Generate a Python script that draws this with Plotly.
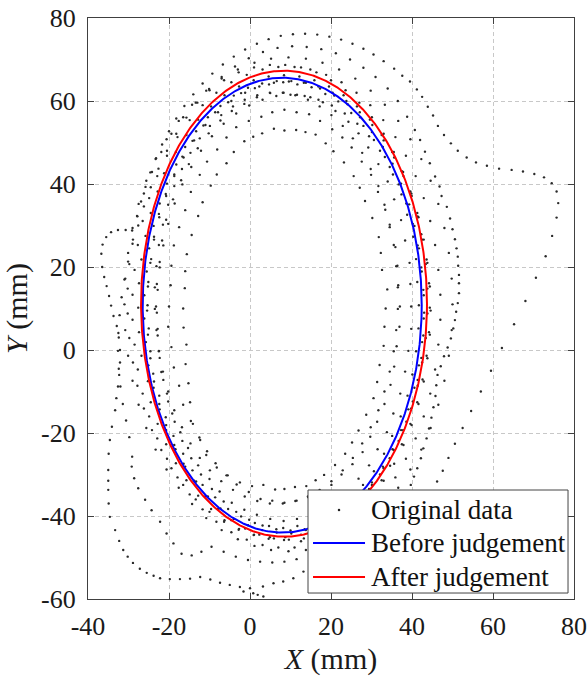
import numpy as np
import plotly.graph_objects as go

# ---- measured trajectory samples (mm), one list per pass ----
loop_outer = [
    (46.2, -31.7), (47.6, -29.1), (49.0, -26.0), (50.6, -22.6), (52.5, -18.8), (54.6, -14.7),
    (57.0, -10.0), (59.5, -5.0), (62.2, 0.5), (65.2, 6.2), (68.0, 11.8), (70.6, 17.4),
    (73.0, 22.6), (74.6, 27.5), (75.7, 31.9), (76.1, 35.4), (75.7, 38.2), (74.5, 40.2),
    (72.6, 41.6), (70.2, 42.4), (67.4, 43.0), (64.6, 43.4), (61.5, 43.7), (58.5, 44.4),
    (55.8, 45.2), (53.5, 46.4), (51.3, 48.0), (49.6, 49.8), (47.9, 51.8), (46.4, 54.0),
    (45.2, 56.5), (43.9, 58.6), (42.5, 61.0), (41.2, 62.8), (39.5, 64.7), (37.6, 66.1),
    (35.6, 67.8), (33.0, 69.6), (30.5, 71.2), (28.0, 72.6), (25.3, 73.8), (22.5, 74.8),
    (19.6, 75.5), (16.6, 76.0), (13.6, 76.2), (10.6, 76.1), (7.6, 75.7), (4.6, 74.9),
    (1.7, 73.8), (-1.2, 72.4), (-4.0, 70.7), (-6.7, 68.8), (-9.3, 66.6), (-11.7, 64.2),
    (-14.0, 61.6), (-16.2, 58.8), (-18.2, 55.8), (-20.0, 52.7), (-21.7, 49.5), (-23.2, 46.2),
    (-24.6, 42.8), (-25.8, 39.3), (-26.9, 35.8), (-27.9, 32.3), (-29.1, 28.8), (-30.7, 28.9),
    (-32.6, 28.9), (-34.3, 28.4), (-35.5, 27.2), (-36.4, 25.4), (-36.7, 23.2), (-36.5, 20.0),
    (-36.0, 17.6), (-35.4, 15.4), (-34.8, 13.0), (-34.3, 10.7), (-33.7, 8.2), (-32.9, 5.8),
    (-32.4, 3.0), (-32.1, 0.0), (-32.1, -3.0), (-32.3, -6.0), (-32.6, -8.8), (-33.0, -11.6),
    (-33.3, -14.5), (-34.1, -18.5), (-34.6, -21.7), (-34.9, -25.0), (-35.0, -28.9), (-35.0, -31.5),
    (-35.0, -33.7), (-34.9, -37.0), (-34.6, -40.2), (-33.3, -43.4), (-32.3, -46.0), (-31.3, -48.2),
    (-30.2, -49.8), (-28.9, -51.3), (-27.2, -52.7), (-25.5, -53.7), (-23.8, -54.4), (-22.2, -55.0),
    (-19.8, -55.2), (-17.3, -55.2), (-14.8, -55.1), (-12.3, -54.7), (-9.8, -55.3), (-7.4, -56.1),
    (-5.0, -56.6), (-2.5, -57.1), (0.0, -57.4), (3.2, -57.0), (5.8, -56.2), (8.2, -55.8),
    (10.7, -55.0), (13.2, -53.4), (0.8, -58.6), (1.9, -59.0), (3.3, -59.4), (-1.6, -58.2),
]

loop_second = [
    (39.7, -32.5), (40.5, -30.5), (41.3, -28.5), (42.2, -26.1), (42.8, -23.7), (43.6, -21.3),
    (44.2, -18.9), (44.8, -16.3), (45.3, -13.8), (45.8, -11.1), (46.0, -8.5), (46.3, -6.0),
    (47.1, -3.9), (47.9, -1.5), (48.8, 0.6), (49.6, 2.8), (50.2, 5.2), (50.6, 7.2),
    (50.9, 9.2), (51.3, 11.3), (51.6, 13.7), (51.6, 16.1), (51.6, 18.1), (51.4, 20.3),
    (51.3, 22.5), (51.0, 24.5), (50.6, 26.7), (50.0, 29.1), (49.4, 31.7), (48.6, 34.5),
    (47.3, 37.1), (46.8, 39.4), (45.7, 41.8), (44.4, 45.0), (43.2, 47.8), (42.0, 50.6),
    (40.7, 53.0), (38.8, 56.2), (36.5, 60.0), (34.0, 63.0), (31.0, 65.8), (28.0, 68.0),
    (24.7, 70.0), (21.2, 71.5), (17.6, 72.5), (14.0, 73.0), (10.4, 73.2), (6.8, 72.8),
    (3.2, 71.8), (-0.3, 70.3), (-3.7, 68.3), (-7.0, 65.8), (-10.1, 62.9), (-13.0, 59.6),
    (-15.7, 56.0), (-18.2, 52.1), (-20.5, 48.0), (-22.6, 43.7), (-24.5, 39.2), (-26.2, 34.6),
    (-27.6, 30.0), (-29.0, 25.6), (-30.1, 21.3), (-31.0, 17.0), (-31.7, 12.7), (-32.2, 8.4),
    (-32.5, 4.1), (-32.6, -0.2), (-32.4, -4.5), (-32.0, -8.8), (-31.4, -13.0), (-30.6, -17.0),
    (-29.8, -21.0), (-29.1, -25.7), (-29.2, -28.1), (-28.6, -30.9), (-27.6, -33.3), (-25.9, -36.1),
    (-24.3, -38.6), (-22.2, -41.4), (-20.6, -44.2), (-18.9, -46.6), (-16.9, -49.1), (-14.4, -49.5),
    (-12.0, -48.6), (-9.5, -47.4), (-6.5, -48.6), (-3.5, -49.8), (-0.5, -50.6), (2.5, -51.0),
    (5.5, -51.2), (8.5, -51.0), (11.5, -50.4), (17.0, -48.5), (21.0, -46.8), (25.0, -44.6),
    (29.0, -42.0), (32.5, -39.0), (35.5, -36.5), (38.0, -34.3),
]

pass_1 = [
    (33.5, 10.0), (33.9, 14.6), (32.6, 19.3), (32.3, 23.4), (31.8, 27.2), (30.2, 31.8),
    (28.4, 35.9), (27.1, 39.1), (25.6, 41.9), (23.2, 45.2), (20.6, 47.9), (18.7, 49.8),
    (16.2, 51.9), (13.7, 52.5), (11.4, 53.0), (8.5, 52.9), (5.9, 53.3), (3.0, 52.2),
    (0.8, 51.4), (-1.4, 50.3), (-4.0, 47.7), (-5.8, 45.0), (-8.2, 42.3), (-9.7, 39.6),
    (-11.7, 35.6), (-12.8, 32.3), (-14.4, 27.7), (-15.6, 23.1), (-16.0, 19.0), (-16.1, 14.9),
    (-16.5, 10.0), (-16.4, 5.4), (-15.7, 1.3), (-15.9, -3.4), (-15.2, -8.0), (-14.8, -12.6),
    (-14.1, -17.8), (-12.3, -21.7), (-10.8, -25.3), (-8.2, -28.3), (-5.5, -30.2), (-2.5, -31.9),
    (0.5, -32.8), (3.3, -32.5), (6.2, -33.6), (8.5, -33.5), (11.1, -33.0), (13.9, -32.8),
    (16.2, -31.4), (18.3, -30.1), (21.0, -27.7), (23.5, -25.0), (25.2, -22.3), (26.8, -19.4),
    (28.7, -15.6), (30.5, -11.6), (31.4, -7.7), (32.0, -3.6), (33.0, 1.0), (33.2, 5.6),
]

pass_2 = [
    (37.0, 10.5), (36.6, 15.6), (36.4, 20.3), (35.9, 24.8), (34.5, 29.6), (33.4, 33.8),
    (31.6, 38.1), (29.9, 42.2), (27.6, 45.4), (25.1, 48.8), (22.8, 51.2), (20.3, 53.2),
    (17.3, 55.2), (14.6, 56.8), (11.5, 57.3), (8.5, 57.9), (5.5, 57.3), (2.8, 56.2),
    (-0.3, 55.2), (-3.4, 53.7), (-5.8, 51.2), (-8.1, 48.3), (-10.6, 45.4), (-12.4, 42.2),
    (-14.6, 38.1), (-16.0, 33.7), (-17.5, 29.6), (-18.8, 25.2), (-19.4, 20.3), (-19.6, 15.6),
    (-20.0, 10.5), (-20.2, 5.6), (-19.4, 0.7), (-18.8, -4.2), (-17.5, -8.6), (-16.5, -13.2),
    (-14.6, -17.1), (-12.5, -21.1), (-10.6, -24.4), (-8.5, -27.3), (-5.8, -30.2), (-3.3, -32.4),
    (-0.3, -34.2), (2.6, -35.9), (5.5, -36.3), (8.5, -36.8), (11.5, -36.3), (14.4, -35.5),
    (17.5, -34.5), (20.1, -32.5), (22.6, -30.0), (25.3, -27.5), (27.8, -24.6), (29.7, -20.9),
    (31.4, -17.3), (33.2, -13.0), (34.7, -8.4), (35.6, -4.0), (36.2, 0.9), (36.9, 5.6),
]

pass_3 = [
    (39.8, 10.5), (39.6, 15.9), (39.4, 21.0), (38.3, 26.4), (37.3, 31.3), (35.6, 36.3),
    (34.0, 40.6), (31.7, 44.8), (29.2, 48.8), (26.8, 52.2), (24.3, 55.0), (21.1, 57.6),
    (18.0, 59.7), (14.9, 60.9), (11.6, 61.5), (8.3, 62.0), (5.0, 61.9), (1.7, 60.9),
    (-1.4, 59.3), (-4.5, 57.6), (-7.3, 55.3), (-10.2, 52.2), (-12.9, 48.6), (-15.1, 44.8),
    (-17.0, 40.9), (-19.0, 36.3), (-20.7, 31.4), (-21.7, 26.4), (-22.3, 21.2), (-23.0, 15.9),
    (-23.2, 10.5), (-22.8, 5.1), (-22.5, -0.2), (-21.9, -5.3), (-20.5, -10.5), (-19.2, -15.3),
    (-17.2, -19.8), (-15.3, -23.6), (-12.8, -27.8), (-10.0, -31.1), (-7.5, -34.1), (-4.5, -36.8),
    (-1.4, -38.5), (1.7, -39.7), (5.0, -40.7), (8.3, -41.2), (11.6, -40.7), (14.9, -39.7),
    (18.0, -38.5), (21.3, -36.4), (24.1, -34.1), (26.8, -31.0), (29.4, -27.8), (31.5, -23.9),
    (33.8, -19.8), (35.4, -15.3), (37.1, -10.5), (38.3, -5.2), (39.1, -0.2), (39.8, 5.1),
]

pass_4 = [
    (41.7, 10.8), (41.3, 16.4), (41.0, 21.9), (40.3, 27.3), (38.8, 32.6), (37.4, 37.5),
    (35.3, 42.3), (33.3, 46.5), (30.6, 50.6), (28.0, 54.0), (25.0, 57.1), (21.8, 59.9),
    (18.6, 61.7), (15.2, 63.3), (11.7, 64.0), (8.2, 64.5), (4.7, 64.0), (1.2, 63.1),
    (-2.2, 61.9), (-5.4, 59.7), (-8.6, 57.3), (-11.5, 54.1), (-14.2, 50.4), (-16.7, 46.6),
    (-18.7, 42.3), (-20.8, 37.6), (-22.5, 32.8), (-23.7, 27.3), (-24.4, 21.9), (-25.1, 16.4),
    (-25.3, 10.8), (-25.0, 5.2), (-24.6, -0.3), (-23.9, -5.7), (-22.4, -11.0), (-20.8, -16.2),
    (-18.9, -20.7), (-16.5, -25.0), (-14.2, -29.0), (-11.7, -32.5), (-8.6, -35.5), (-5.4, -38.3),
    (-2.2, -40.1), (1.2, -41.7), (4.7, -42.4), (8.2, -42.9), (11.7, -42.4), (15.2, -41.5),
    (18.6, -40.3), (21.8, -38.1), (25.0, -35.3), (27.9, -32.5), (30.6, -29.2), (33.1, -25.0),
    (35.1, -20.7), (37.2, -16.0), (38.9, -11.0), (40.1, -5.9), (41.0, -0.3), (41.6, 5.2),
]

pass_5 = [
    (42.9, 13.2), (42.4, 18.9), (41.7, 24.5), (40.6, 29.9), (39.3, 35.1), (37.3, 40.1),
    (35.2, 44.9), (32.8, 48.9), (30.1, 52.5), (27.2, 56.1), (24.1, 59.2), (20.8, 61.3),
    (17.3, 63.0), (13.8, 64.4), (10.2, 64.8), (6.6, 64.8), (3.0, 64.2), (-0.5, 63.2),
    (-4.0, 61.3), (-7.3, 58.8), (-10.4, 56.1), (-13.3, 52.7), (-16.0, 48.9), (-18.2, 44.7),
    (-20.5, 40.1), (-22.3, 35.3), (-23.8, 29.9), (-24.9, 24.5), (-25.5, 18.9), (-26.1, 13.2),
    (-26.1, 7.6), (-25.7, 1.9), (-25.1, -3.7), (-23.8, -9.1), (-22.3, -14.3), (-20.7, -19.3),
    (-18.4, -23.9), (-16.0, -28.1), (-13.3, -31.7), (-10.4, -35.3), (-7.3, -38.2), (-4.0, -40.7),
    (-0.5, -42.2), (3.0, -43.4), (6.6, -44.0), (10.2, -44.2), (13.8, -43.4), (17.3, -42.2),
    (20.8, -40.5), (24.1, -38.2), (27.2, -35.3), (30.1, -31.9), (32.8, -28.1), (35.2, -23.9),
    (37.3, -19.3), (39.1, -14.3), (40.6, -9.1), (41.7, -3.7), (42.5, 1.9), (42.9, 7.6),
]

pass_6 = [
    (44.4, 10.2), (44.2, 16.1), (43.6, 21.8), (42.3, 27.9), (41.3, 33.0), (39.6, 38.2),
    (37.5, 43.1), (35.1, 47.7), (32.5, 51.8), (29.6, 55.5), (26.4, 58.7), (23.1, 61.4),
    (19.5, 63.5), (15.9, 65.0), (12.2, 65.9), (8.4, 66.2), (4.6, 65.9), (0.9, 65.0),
    (-2.7, 63.5), (-6.3, 61.4), (-9.6, 58.7), (-12.8, 55.5), (-15.7, 51.8), (-18.3, 47.7),
    (-21.2, 42.6), (-22.8, 38.2), (-24.5, 33.0), (-25.8, 27.5), (-26.8, 21.8), (-27.4, 16.1),
    (-27.6, 10.2), (-27.4, 4.3), (-26.8, -1.4), (-25.2, -7.5), (-24.5, -12.6), (-22.8, -17.8),
    (-20.7, -22.7), (-18.3, -27.3), (-15.7, -31.4), (-12.8, -35.1), (-9.6, -38.3), (-6.3, -41.0),
    (-2.7, -43.1), (0.9, -44.6), (4.6, -45.5), (8.4, -45.8), (12.6, -46.1), (15.9, -44.6),
    (19.5, -43.1), (23.1, -41.0), (26.4, -38.3), (29.6, -35.1), (32.5, -31.4), (34.6, -27.9),
    (37.5, -22.7), (39.6, -17.8), (41.3, -12.6), (42.6, -7.1), (43.6, -1.4), (44.2, 4.3),
]

pass_7 = [
    (47.0, 13.3), (46.5, 19.3), (45.7, 25.3), (44.5, 31.1), (42.9, 36.6), (40.9, 41.9),
    (38.5, 46.8), (35.9, 51.3), (32.9, 55.4), (29.7, 59.0), (26.3, 62.0), (22.6, 64.5),
    (18.8, 66.3), (14.9, 67.6), (11.0, 68.2), (7.0, 68.2), (3.1, 67.6), (-0.8, 66.3),
    (-4.6, 64.5), (-8.3, 62.0), (-11.7, 59.0), (-14.9, 55.4), (-17.9, 51.3), (-20.5, 46.8),
    (-22.9, 41.9), (-24.9, 36.6), (-26.5, 31.1), (-27.7, 25.3), (-28.5, 19.3), (-29.0, 13.3),
    (-29.0, 7.3), (-28.5, 1.3), (-27.7, -4.7), (-26.5, -10.5), (-24.9, -16.0), (-22.9, -21.3),
    (-20.5, -26.2), (-17.9, -30.7), (-14.9, -34.8), (-11.7, -38.4), (-8.3, -41.4), (-4.6, -43.9),
    (-0.8, -45.7), (3.1, -47.0), (7.0, -47.6), (11.0, -47.6), (14.9, -47.0), (18.8, -45.7),
    (22.6, -43.9), (26.3, -41.4), (29.7, -38.4), (32.9, -34.8), (35.9, -30.7), (38.5, -26.2),
    (40.9, -21.3), (42.9, -16.0), (44.5, -10.5), (45.7, -4.7), (46.5, 1.3), (47.0, 7.3),
]

pass_8 = [
    (50.0, 11.0), (49.8, 17.2), (49.1, 23.4), (48.0, 29.4), (46.5, 35.2), (44.6, 40.8),
    (42.3, 46.0), (39.6, 50.8), (36.6, 55.2), (33.3, 59.1), (29.8, 62.5), (26.0, 65.4),
    (22.0, 67.6), (17.9, 69.2), (13.8, 70.2), (9.5, 70.5), (5.2, 70.2), (1.1, 69.2),
    (-3.0, 67.6), (-7.0, 65.4), (-10.8, 62.5), (-14.3, 59.1), (-17.6, 55.2), (-20.6, 50.8),
    (-23.3, 46.0), (-25.6, 40.8), (-27.5, 35.2), (-29.0, 29.4), (-30.1, 23.4), (-30.8, 17.2),
    (-31.0, 11.0), (-30.8, 4.8), (-30.1, -1.4), (-29.0, -7.4), (-27.5, -13.2), (-25.6, -18.8),
    (-23.3, -24.0), (-20.6, -28.8), (-17.6, -33.2), (-14.3, -37.1), (-10.8, -40.5), (-7.0, -43.4),
    (-3.0, -45.6), (1.1, -47.2), (5.2, -48.2), (9.5, -48.5), (13.8, -48.2), (17.9, -47.2),
    (22.0, -45.6), (26.0, -43.4), (29.8, -40.5), (33.3, -37.1), (36.6, -33.2), (39.6, -28.8),
    (42.3, -24.0), (44.6, -18.8), (46.5, -13.2), (48.0, -7.4), (49.1, -1.4), (49.8, 4.8),
]

pass_9 = [
    (36.5, 15.1), (36.1, 20.2), (35.5, 25.3), (34.5, 30.2), (33.2, 35.0), (31.7, 39.5),
    (29.8, 43.6), (27.7, 47.5), (25.4, 51.0), (22.9, 54.0), (20.1, 56.6), (17.2, 58.7),
    (14.3, 60.3), (11.2, 61.4), (8.1, 62.0), (4.9, 62.0), (1.8, 61.4), (-1.3, 60.3),
    (-4.2, 58.7), (-7.1, 56.6), (-9.9, 54.0), (-12.4, 51.0), (-14.7, 47.5), (-16.8, 43.6),
    (-18.7, 39.5), (-20.2, 35.0), (-21.5, 30.2), (-22.5, 25.3), (-23.1, 20.2), (-23.5, 15.1),
    (-23.5, 9.9), (-23.1, 4.8), (-22.5, -0.3), (-21.5, -5.2), (-20.2, -10.0), (-18.7, -14.5),
    (-16.8, -18.6), (-14.7, -22.5), (-12.4, -26.0), (-9.9, -29.0), (-7.1, -31.6), (-4.2, -33.7),
    (-1.3, -35.3), (1.8, -36.4), (4.9, -37.0), (8.1, -37.0), (11.2, -36.4), (14.3, -35.3),
    (17.2, -33.7), (20.1, -31.6), (22.9, -29.0), (25.4, -26.0), (27.7, -22.5), (29.8, -18.6),
    (31.7, -14.5), (33.2, -10.0), (34.5, -5.2), (35.5, -0.3), (36.1, 4.8), (36.5, 9.9),
]

pass_10 = [
    (43.0, 9.0), (42.8, 14.5), (42.3, 19.9), (41.4, 25.2), (40.2, 30.4), (38.6, 35.3),
    (36.7, 39.9), (34.5, 44.1), (32.1, 48.0), (29.4, 51.5), (26.5, 54.5), (23.4, 57.0),
    (20.2, 58.9), (16.9, 60.3), (13.5, 61.2), (10.0, 61.5), (6.5, 61.2), (3.1, 60.3),
    (-0.2, 58.9), (-3.4, 57.0), (-6.5, 54.5), (-9.4, 51.5), (-12.1, 48.0), (-14.5, 44.1),
    (-16.7, 39.9), (-18.6, 35.3), (-20.2, 30.4), (-21.4, 25.2), (-22.3, 19.9), (-22.8, 14.5),
    (-23.0, 9.0), (-22.8, 3.5), (-22.3, -1.9), (-21.4, -7.2), (-20.2, -12.4), (-18.6, -17.3),
    (-16.7, -21.9), (-14.5, -26.1), (-12.1, -30.0), (-9.4, -33.5), (-6.5, -36.5), (-3.4, -39.0),
    (-0.2, -40.9), (3.1, -42.3), (6.5, -43.2), (10.0, -43.5), (13.5, -43.2), (16.9, -42.3),
    (20.2, -40.9), (23.4, -39.0), (26.5, -36.5), (29.4, -33.5), (32.1, -30.0), (34.5, -26.1),
    (36.7, -21.9), (38.6, -17.3), (40.2, -12.4), (41.4, -7.2), (42.3, -1.9), (42.8, 3.5),
]

pass_11 = [
    (43.8, 14.8), (43.4, 20.7), (42.5, 26.6), (41.4, 32.2), (39.8, 37.7), (37.8, 42.9),
    (35.5, 47.7), (33.0, 52.1), (30.1, 56.1), (27.0, 59.6), (23.6, 62.6), (20.0, 65.0),
    (16.4, 66.9), (12.6, 68.1), (8.7, 68.7), (4.9, 68.7), (1.0, 68.1), (-2.8, 66.9),
    (-6.4, 65.0), (-10.0, 62.6), (-13.4, 59.6), (-16.5, 56.1), (-19.4, 52.1), (-21.9, 47.7),
    (-24.2, 42.9), (-26.2, 37.7), (-27.8, 32.2), (-28.9, 26.6), (-29.8, 20.7), (-30.2, 14.8),
    (-30.2, 8.8), (-29.8, 2.9), (-28.9, -3.0), (-27.8, -8.6), (-26.2, -14.1), (-24.2, -19.3),
    (-21.9, -24.1), (-19.4, -28.5), (-16.5, -32.5), (-13.4, -36.0), (-10.0, -39.0), (-6.4, -41.4),
    (-2.8, -43.3), (1.0, -44.5), (4.9, -45.1), (8.7, -45.1), (12.6, -44.5), (16.4, -43.3),
    (20.0, -41.4), (23.6, -39.0), (27.0, -36.0), (30.1, -32.5), (33.0, -28.5), (35.5, -24.1),
    (37.8, -19.3), (39.8, -14.1), (41.4, -8.6), (42.5, -3.0), (43.4, 2.9), (43.8, 8.8),
]

pass_12 = [
    (44.6, 9.5), (44.4, 15.3), (43.8, 21.0), (42.9, 26.6), (41.6, 32.0), (39.9, 37.1),
    (37.9, 41.9), (35.6, 46.4), (33.0, 50.5), (30.2, 54.2), (27.1, 57.3), (23.8, 60.0),
    (20.4, 62.0), (16.9, 63.5), (13.3, 64.4), (9.6, 64.7), (5.9, 64.4), (2.3, 63.5),
    (-1.2, 62.0), (-4.6, 60.0), (-7.9, 57.3), (-11.0, 54.2), (-13.8, 50.5), (-16.4, 46.4),
    (-18.7, 41.9), (-20.7, 37.1), (-22.4, 32.0), (-23.7, 26.6), (-24.6, 21.0), (-25.2, 15.3),
    (-25.4, 9.5), (-25.2, 3.7), (-24.6, -2.0), (-23.7, -7.6), (-22.4, -13.0), (-20.7, -18.1),
    (-18.7, -22.9), (-16.4, -27.4), (-13.8, -31.5), (-11.0, -35.2), (-7.9, -38.3), (-4.6, -41.0),
    (-1.2, -43.0), (2.3, -44.5), (5.9, -45.4), (9.6, -45.7), (13.3, -45.4), (16.9, -44.5),
    (20.4, -43.0), (23.8, -41.0), (27.1, -38.3), (30.2, -35.2), (33.0, -31.5), (35.6, -27.4),
    (37.9, -22.9), (39.9, -18.1), (41.6, -13.0), (42.9, -7.6), (43.8, -2.0), (44.4, 3.7),
]

all_passes = [loop_outer, loop_second, pass_1, pass_2, pass_3, pass_4, pass_5, pass_6,
              pass_7, pass_8, pass_9, pass_10, pass_11, pass_12]

# ---- fitted ellipses: centre (cx, cy) and semi-axes (ax along X, ay along Y) ----
fit_before = {"cx": 7.95, "cy": 10.8, "ax": 34.45, "ay": 54.8}
fit_after = {"cx": 8.4, "cy": 11.15, "ax": 35.3, "ay": 56.15}

x_ticks = [-40, -20, 0, 20, 40, 60, 80]
y_ticks = [-60, -40, -20, 0, 20, 40, 60, 80]

legend_labels = ["Original data", "Before judgement", "After judgement"]
legend_colors = ["#222222", "#0000ff", "#ff0000"]

FONT = "Liberation Serif, Times New Roman, serif"
TEXT = "#1a1a1a"

data_x = [p[0] for seq in all_passes for p in seq]
data_y = [p[1] for seq in all_passes for p in seq]


def ellipse_path(fit, n=721):
    t = np.linspace(0.0, 2.0 * np.pi, n)
    return fit["cx"] + fit["ax"] * np.cos(t), fit["cy"] + fit["ay"] * np.sin(t)


bx, by = ellipse_path(fit_before)
rx, ry = ellipse_path(fit_after)

fig = go.Figure()
fig.add_trace(go.Scatter(
    x=data_x, y=data_y, mode="markers", name=legend_labels[0], showlegend=False,
    marker=dict(size=2.4, color="#2a2a2a"),
))
fig.add_trace(go.Scatter(
    x=bx, y=by, mode="lines", name=legend_labels[1], showlegend=False,
    line=dict(color=legend_colors[1], width=2),
))
fig.add_trace(go.Scatter(
    x=rx, y=ry, mode="lines", name=legend_labels[2], showlegend=False,
    line=dict(color=legend_colors[2], width=2),
))

axis_common = dict(
    automargin=False,
    showline=True, linecolor="#404040", linewidth=1.2, mirror="allticks",
    ticks="inside", ticklen=6, tickcolor="#404040", tickwidth=1,
    showgrid=True, gridcolor="#c8c8c8", gridwidth=1, griddash="4px,3px",
    zeroline=False, tickfont=dict(family=FONT, size=26, color=TEXT),
)

fig.update_xaxes(
    range=[-40, 80], tickvals=x_ticks, ticktext=[str(v) for v in x_ticks],
    title=dict(text="<i>X</i> (mm)", font=dict(family=FONT, size=30, color=TEXT), standoff=12),
    ticklabelstandoff=4,
    **axis_common,
)
fig.update_yaxes(
    range=[-60, 80], tickvals=y_ticks, ticktext=[str(v) for v in y_ticks],
    title=dict(text="<i>Y</i> (mm)", font=dict(family=FONT, size=30, color=TEXT), standoff=6),
    ticklabelstandoff=6,
    **axis_common,
)

# legend panel in the lower-right corner of the axes (paper coordinates)
box = dict(x0=0.4527, x1=0.9877, y0=0.0103, y1=0.1876)
row_y = [0.1532, 0.0964, 0.0379]
sample_x = (0.4630, 0.5700)
text_x = 0.5782

shapes = [dict(type="rect", xref="paper", yref="paper", layer="above",
               fillcolor="white", line=dict(color="#444444", width=1), **box)]
mid = 0.5 * (sample_x[0] + sample_x[1])
shapes.append(dict(type="circle", xref="paper", yref="paper", layer="above",
                   x0=mid - 0.0026, x1=mid + 0.0026, y0=row_y[0] - 0.0022, y1=row_y[0] + 0.0022,
                   fillcolor=legend_colors[0], line=dict(width=0)))
for yy, col in zip(row_y[1:], legend_colors[1:]):
    shapes.append(dict(type="line", xref="paper", yref="paper", layer="above",
                       x0=sample_x[0], x1=sample_x[1], y0=yy, y1=yy,
                       line=dict(color=col, width=2)))

annotations = [
    dict(xref="paper", yref="paper", x=text_x, y=yy, text=label, showarrow=False,
         xanchor="left", yanchor="middle", font=dict(family=FONT, size=27, color="#111111"))
    for yy, label in zip(row_y, legend_labels)
]

fig.update_layout(
    width=587, height=676,
    margin=dict(l=88, r=13, t=18, b=77, pad=0),
    paper_bgcolor="white", plot_bgcolor="white",
    showlegend=False,
    shapes=shapes, annotations=annotations,
)

fig.write_html("out.html")
